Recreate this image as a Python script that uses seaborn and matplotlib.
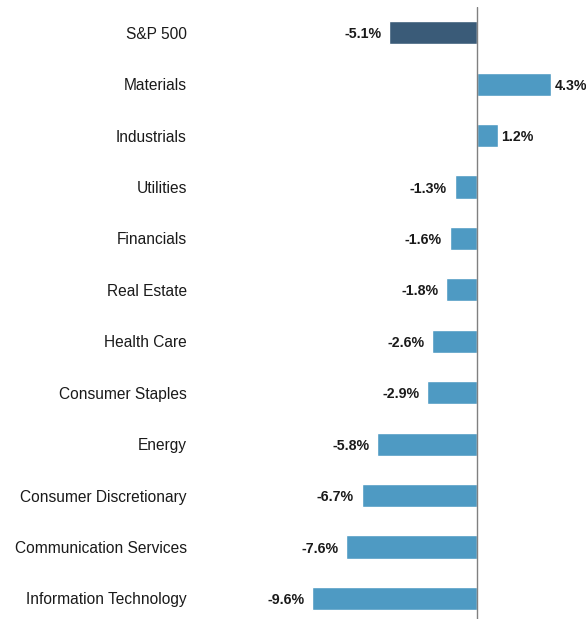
import numpy as np
import pandas as pd
import matplotlib
matplotlib.use("Agg")
import matplotlib.pyplot as plt
import seaborn as sns

# =====================================================
# DATA
# =====================================================
sectors = [
    "S&P 500",
    "Materials",
    "Industrials",
    "Utilities",
    "Financials",
    "Real Estate",
    "Health Care",
    "Consumer Staples",
    "Energy",
    "Consumer Discretionary",
    "Communication Services",
    "Information Technology",
]
returns = [-5.1, 4.3, 1.2, -1.3, -1.6, -1.8, -2.6, -2.9, -5.8, -6.7, -7.6, -9.6]

dark_blue = "#3a5b78"
light_blue = "#4e9ac3"
bar_colors = [dark_blue] + [light_blue] * (len(sectors) - 1)

df = pd.DataFrame({"Sector": sectors, "Return": returns})

# =====================================================
# STYLE
# =====================================================
sns.set_style("white")
plt.rcParams["font.family"] = ["Liberation Sans", "DejaVu Sans"]

# =====================================================
# FIGURE
# =====================================================
fig = plt.figure(figsize=(5.86, 6.19), dpi=100)
ax = fig.add_axes([0.34, 0.0, 0.66, 0.9887])

sns.barplot(
    data=df,
    x="Return",
    y="Sector",
    hue="Sector",
    palette=bar_colors,
    saturation=1,
    legend=False,
    width=0.45,
    orient="h",
    ax=ax,
)

ax.set_xlim(-16.16, 6.34)
ax.set_ylim(11.4, -0.5)
ax.axvline(0, color="#808080", lw=1.0)

for i, v in enumerate(returns):
    if v < 0:
        ax.text(v - 0.45, i + 0.03, f"{v:.1f}%", ha="right", va="center",
                fontsize=10.2, fontweight="bold", color="#1a1a1a")
    else:
        ax.text(v + 0.22, i + 0.03, f"{v:.1f}%", ha="left", va="center",
                fontsize=10.2, fontweight="bold", color="#1a1a1a")

ax.set_xticks([])
ax.set_xlabel("")
ax.set_ylabel("")
ax.tick_params(axis="y", length=0, pad=9, labelsize=11.2, labelcolor="#1a1a1a")
for side in ["top", "right", "bottom", "left"]:
    ax.spines[side].set_visible(False)

fig.savefig("out.png", dpi=100)
